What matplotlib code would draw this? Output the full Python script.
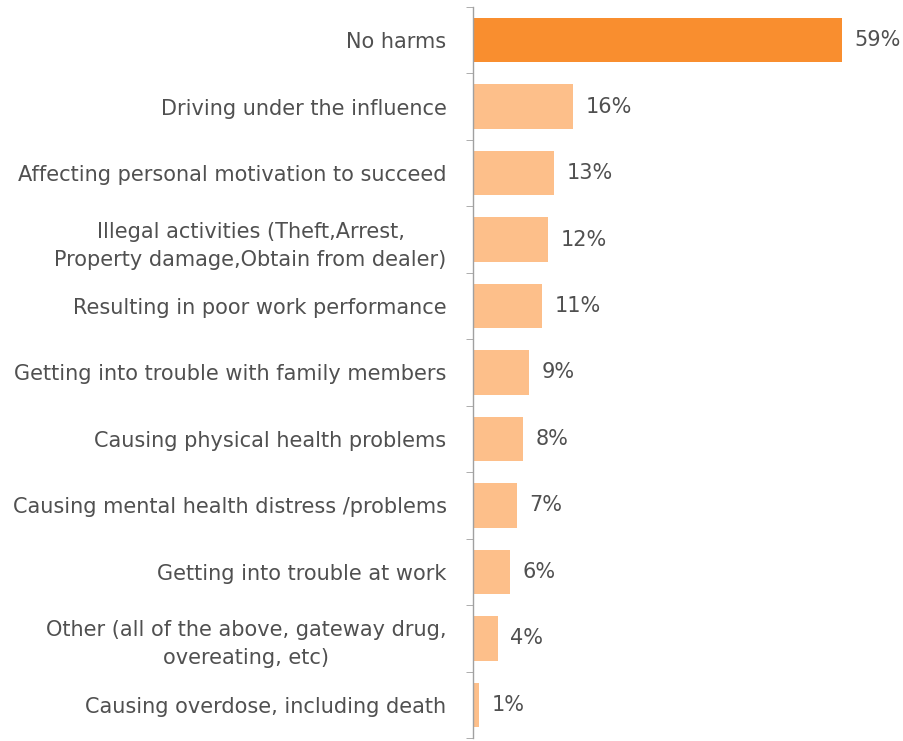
import matplotlib
matplotlib.use("Agg")
import matplotlib.pyplot as plt
import numpy as np

categories = [
    "No harms",
    "Driving under the influence",
    "Affecting personal motivation to succeed",
    "Illegal activities (Theft,Arrest,\nProperty damage,Obtain from dealer)",
    "Resulting in poor work performance",
    "Getting into trouble with family members",
    "Causing physical health problems",
    "Causing mental health distress /problems",
    "Getting into trouble at work",
    "Other (all of the above, gateway drug,\novereating, etc)",
    "Causing overdose, including death",
]
values = [59, 16, 13, 12, 11, 9, 8, 7, 6, 4, 1]
labels = ["59%", "16%", "13%", "12%", "11%", "9%", "8%", "7%", "6%", "4%", "1%"]

plt.rcParams['font.family'] = ['DejaVu Sans']
text_color = "#505050"
dark = "#F98E2F"
light = "#FDBF8A"
fs = 15

fig = plt.figure(figsize=(9.04, 7.41), dpi=100)
W, H = 904, 741
left_px, right_px, top_px, bot_px = 473, 904, 7, 738
ax = fig.add_axes([left_px / W, (H - bot_px) / H, (right_px - left_px) / W, (bot_px - top_px) / H])

n = len(categories)
y = np.arange(n)
colors = [dark] + [light] * (n - 1)
ax.barh(y, values, height=0.67, color=colors)
ax.set_ylim(n - 0.5, -0.5)
ax.set_xlim(0, (right_px - left_px) / 6.25)

for yi, v, lab in zip(y, values, labels):
    ax.annotate(lab, (v, yi), xytext=(9, 0), textcoords="offset points",
                va="center", ha="left", fontsize=fs, color=text_color)

ax.set_yticks(y)
ax.set_yticklabels(categories, fontsize=fs, color=text_color, linespacing=1.5,
                   multialignment="center")
ax.tick_params(axis="y", which="major", length=0, pad=19)
ax.set_yticks(np.arange(n + 1) - 0.5, minor=True)
ax.tick_params(axis="y", which="minor", length=5, color="#A0A0A0", direction="out")
ax.set_xticks([])
for s in ["top", "right", "bottom"]:
    ax.spines[s].set_visible(False)
ax.spines["left"].set_color("#A0A0A0")
ax.spines["left"].set_linewidth(1)

fig.savefig("out.png", dpi=100)
